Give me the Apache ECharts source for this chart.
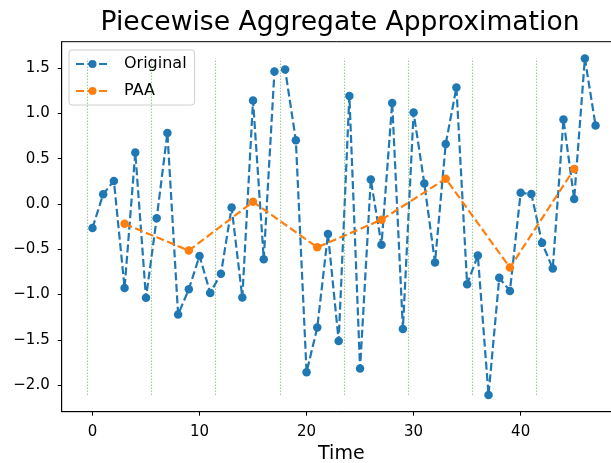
<!DOCTYPE html>
<html>
<head>
<meta charset="utf-8">
<script src="https://cdn.jsdelivr.net/npm/echarts@6/dist/echarts.min.js"></script>
<style>
  html, body { margin: 0; padding: 0; background: #fff; }
  #chart { width: 611px; height: 463px; }
</style>
</head>
<body>
<div id="chart"></div>
<script>
// Time series samples (index 0..47)
const original = [
  -0.265, 0.107, 0.254, -0.927, 0.567, -1.037,
  -0.158, 0.784, -1.221, -0.942, -0.574, -0.982,
  -0.772, -0.040, -1.033, 1.141, -0.610, 1.461,
  1.483, 0.703, -1.858, -1.365, -0.331, -1.512,
  1.192, -1.817, 0.269, -0.452, 1.115, -1.380,
  1.009, 0.225, -0.647, 0.662, 1.285, -0.886,
  -0.570, -2.108, -0.816, -0.960, 0.122, 0.110,
  -0.430, -0.713, 0.931, 0.055, 1.605, 0.865
];
// PAA segment means, plotted at each segment centre
const paaX = [3, 9, 15, 21, 27, 33, 39, 45];
const paaValues = [-0.220, -0.515, 0.023, -0.479, -0.175, 0.278, -0.703, 0.386];
// Segment boundaries
const boundaries = [-0.5, 5.5, 11.5, 17.5, 23.5, 29.5, 35.5, 41.5];
// Tick labels
const xTicks = [0, 10, 20, 30, 40];
const yTicks = [-2.0, -1.5, -1.0, -0.5, 0.0, 0.5, 1.0, 1.5];

const yMin = Math.min(...original);
const yMax = Math.max(...original);

const chart = echarts.init(document.getElementById('chart'), null, { renderer: 'canvas' });
const font = 'DejaVu Sans';
const minus = s => s.replace('-', '\u2212');

// axis extents with 5% padding around the drawn data
const xLo = boundaries[0], xHi = original.length - 1;
const xPad = (xHi - xLo) * 0.05;
const yPad = (yMax - yMin) * 0.05;

const dash = [8, 3.5];

chart.setOption({
  animation: false,
  backgroundColor: '#fff',
  title: {
    text: 'Piecewise Aggregate Approximation',
    left: 335, top: 5, textAlign: 'center',
    textStyle: { fontFamily: font, fontSize: 26.6, fontWeight: 'normal', color: '#000' }
  },
  legend: {
    orient: 'vertical',
    left: 69, top: 50,
    itemWidth: 33, itemHeight: 10, itemGap: 11,
    padding: [6, 8, 6, 6],
    backgroundColor: 'rgba(255,255,255,0.8)',
    borderColor: '#d0d0d0', borderWidth: 1, borderRadius: 3,
    textStyle: { fontFamily: font, fontSize: 16, color: '#000', padding: [0, 0, 0, 10] },
    data: ['Original', 'PAA']
  },
  grid: {
    left: 61.7, top: 41.7, width: 559.3, bottom: 51.3,
    outerBoundsMode: 'none',
    containLabel: false,
    show: true, borderColor: '#000', borderWidth: 1, backgroundColor: 'transparent'
  },
  xAxis: {
    type: 'value',
    min: xLo - xPad, max: xHi + xPad,
    name: 'Time', nameLocation: 'middle', nameGap: 32,
    nameTextStyle: { fontFamily: font, fontSize: 19, color: '#000' },
    splitLine: { show: false },
    axisLine: { show: true, onZero: false, lineStyle: { color: '#000', width: 1 } },
    axisTick: { show: true, length: 4, customValues: xTicks, lineStyle: { color: '#000' } },
    axisLabel: { customValues: xTicks, margin: 13, fontFamily: font, fontSize: 15, color: '#000',
      formatter: v => minus(String(v)) }
  },
  yAxis: {
    type: 'value',
    min: yMin - yPad, max: yMax + yPad,
    splitLine: { show: false },
    axisLine: { show: true, onZero: false, lineStyle: { color: '#000', width: 1 } },
    axisTick: { show: true, length: 4, customValues: yTicks, lineStyle: { color: '#000' } },
    axisLabel: { customValues: yTicks, margin: 12, fontFamily: font, fontSize: 15, color: '#000',
      formatter: v => minus(v.toFixed(1)) }
  },
  series: [
    {
      name: 'Original', type: 'line',
      data: original.map((v, i) => [i, v]),
      symbol: 'circle', symbolSize: 8.5,
      itemStyle: { color: '#1f77b4' },
      lineStyle: { color: '#1f77b4', width: 2.2, type: dash },
      z: 2
    },
    {
      name: 'PAA', type: 'line',
      data: paaX.map((x, i) => [x, paaValues[i]]),
      symbol: 'circle', symbolSize: 8.5,
      itemStyle: { color: '#ff7f0e' },
      lineStyle: { color: '#ff7f0e', width: 2.2, type: dash },
      z: 3
    },
    {
      name: 'boundaries', type: 'lines',
      coordinateSystem: 'cartesian2d',
      silent: true,
      data: boundaries.map(b => ({ coords: [[b, yMin], [b, yMax]] })),
      lineStyle: { color: '#3a9a3a', width: 1.1, type: [1.5, 1.5] },
      z: 4
    }
  ]
});
</script>
</body>
</html>
